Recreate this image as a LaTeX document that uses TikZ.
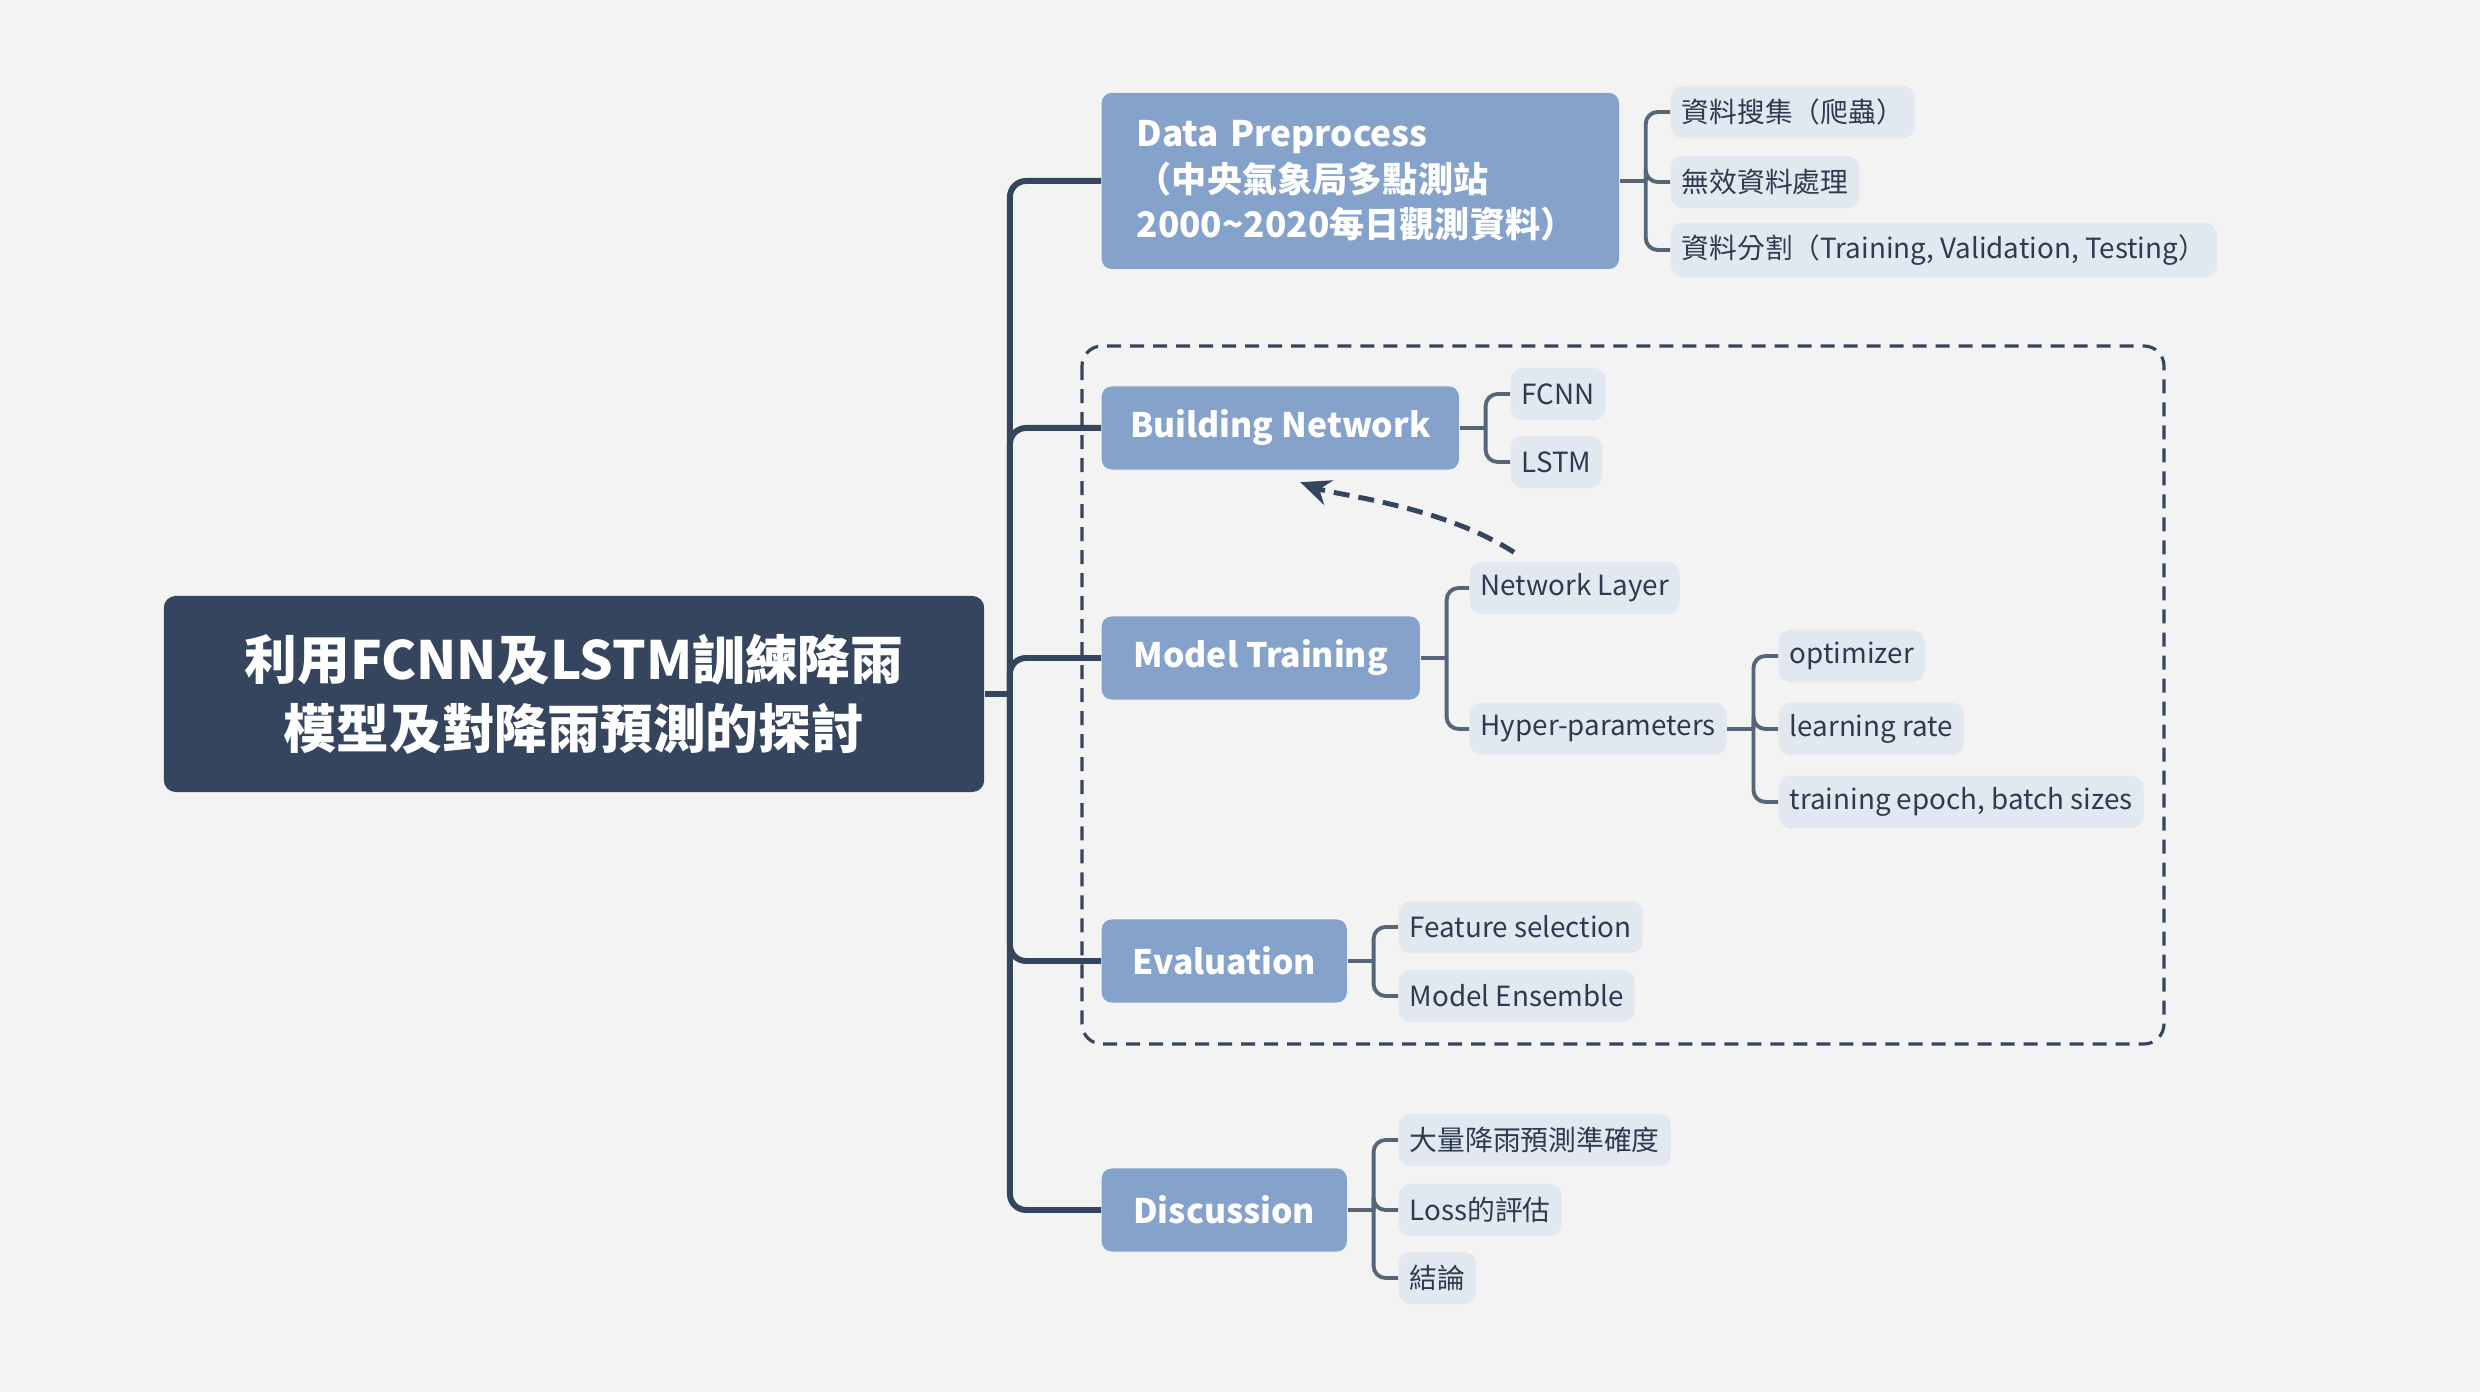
\documentclass[tikz,border=0pt]{standalone}
\usepackage{fontspec}
\setmainfont{Noto Sans CJK TC}
\usetikzlibrary{arrows.meta}

\definecolor{paperBg}{HTML}{F3F3F3}
\definecolor{rootBg}{HTML}{36455E}
\definecolor{mainBg}{HTML}{85A2CA}
\definecolor{leafBg}{HTML}{E2E8F0}
\definecolor{leafText}{HTML}{2D3A4F}
\definecolor{lineDark}{HTML}{36455E}
\definecolor{lineSoft}{HTML}{56657A}

\begin{document}
\begin{tikzpicture}[x=0.01cm, y=-0.01cm,
  rootbox/.style={fill=rootBg, text=white, rounded corners=0.12cm, align=center,
    font=\fontsize{15}{19.6}\selectfont\bfseries, minimum width=8.2cm, minimum height=1.96cm},
  mainbox/.style={fill=mainBg, text=white, rounded corners=0.1cm, anchor=west,
    font=\fontsize{9.6}{13}\selectfont\bfseries, minimum height=0.83cm},
  leafbox/.style={fill=leafBg, text=leafText, rounded corners=0.12cm, anchor=west,
    font=\fontsize{7.9}{10}\selectfont, minimum height=0.52cm, inner xsep=0.11cm},
  trunk/.style={draw=lineDark, line width=1.7pt, rounded corners=0.16cm},
  twig/.style={draw=lineSoft, line width=1.1pt, rounded corners=0.12cm}]

% paper
\fill[paperBg] (0,0) rectangle (2480,1392);

% dashed group
\draw[lineDark, line width=0.9pt, dash pattern=on 0.14cm off 0.09cm, rounded corners=0.2cm] (1082,346) rectangle (2164,1044);

% root
\node[rootbox] (root) at (574,694) {利用FCNN及LSTM訓練降雨\\模型及對降雨預測的探討};

% branches
\node[mainbox, font=\fontsize{10}{13}\selectfont\bfseries, align=left, text width=4.47cm, inner xsep=0.35cm, minimum height=1.76cm] (prep) at (1101,181)
  {Data Preprocess\\（中央氣象局多點測站\\2000\textasciitilde 2020每日觀測資料）};
\node[mainbox, minimum width=3.57cm] (build) at (1101,428) {Building Network};
\node[mainbox, minimum width=3.18cm] (train) at (1101,658) {Model Training};
\node[mainbox, minimum width=2.45cm] (eval) at (1101,961) {Evaluation};
\node[mainbox, minimum width=2.45cm] (disc) at (1101,1210) {Discussion};

% leaves
\node[leafbox] (crawl) at (1670,112) {資料搜集（爬蟲）};
\node[leafbox] (clean) at (1670,182) {無效資料處理};
\node[leafbox] (split) at (1670,250) {資料分割（Training, Validation, Testing）};

\node[leafbox] (fcnn) at (1510,394) {FCNN};
\node[leafbox] (lstm) at (1510,462) {LSTM};

\node[leafbox] (layer) at (1469,588) {Network Layer};
\node[leafbox] (hyper) at (1469,729) {Hyper-parameters};
\node[leafbox] (optim) at (1778,656) {optimizer};
\node[leafbox] (lrate) at (1778,729) {learning rate};
\node[leafbox] (epoch) at (1778,802) {training epoch, batch sizes};

\node[leafbox] (feat) at (1398,927) {Feature selection};
\node[leafbox] (ensem) at (1398,996) {Model Ensemble};

\node[leafbox] (acc) at (1398,1140) {大量降雨預測準確度};
\node[leafbox] (loss) at (1398,1210) {Loss的評估};
\node[leafbox] (concl) at (1398,1278) {結論};

% trunk
\coordinate (hub) at ([xshift=0.25cm]root.east);
\draw[trunk] (root.east) -- (hub);
\foreach \b in {prep,build,train,eval,disc}
  \draw[trunk] (hub) |- (\b.west);

% twigs
\foreach \p/\kids in {prep/{crawl,clean,split}, build/{fcnn,lstm}, train/{layer,hyper},
    hyper/{optim,lrate,epoch}, eval/{feat,ensem}, disc/{acc,loss,concl}} {
  \coordinate (\p hub) at ([xshift=0.26cm]\p.east);
  \draw[twig] (\p.east) -- (\p hub);
  \foreach \k in \kids
    \draw[twig] (\p hub) |- (\k.west);
}

% layer -> network
\draw[lineDark, line width=1.4pt, dash pattern=on 0.16cm off 0.09cm, -{Stealth[length=0.3cm,width=0.26cm]}]
  ([xshift=0.45cm,yshift=0.09cm]layer.north west) .. controls (1440,505) and (1335,495) .. ([xshift=0.2cm,yshift=-0.12cm]build.south);
\end{tikzpicture}
\end{document}
